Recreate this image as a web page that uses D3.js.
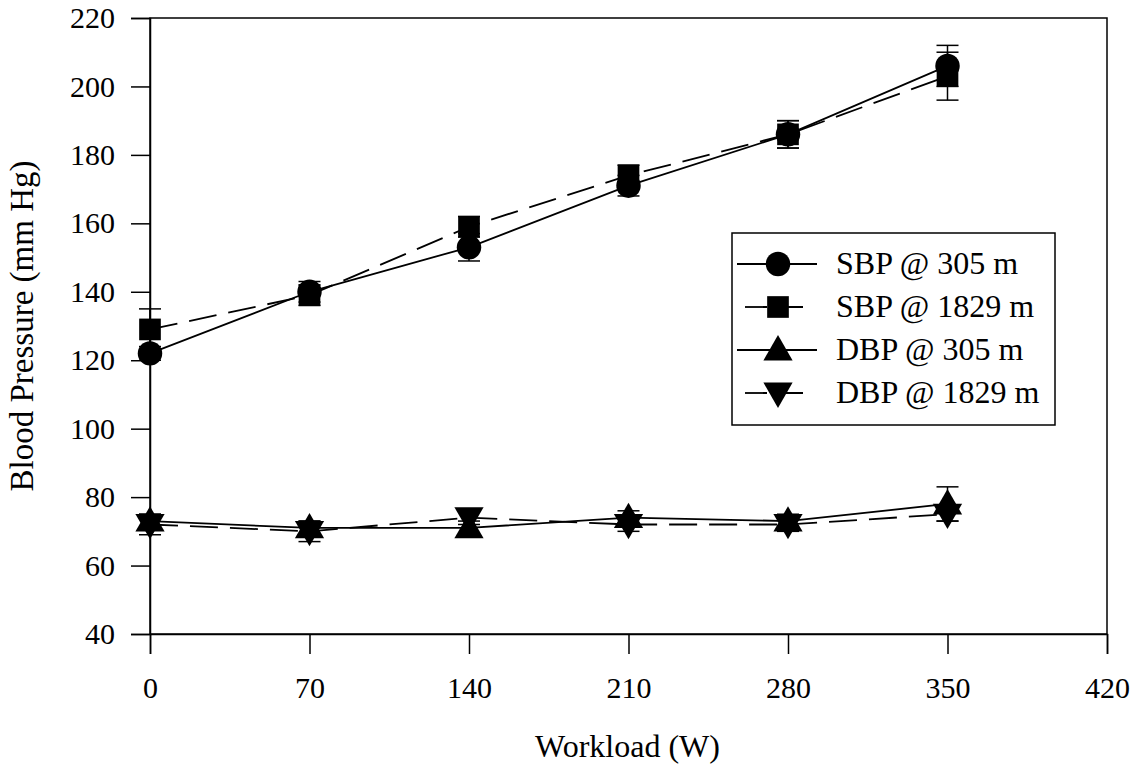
<!DOCTYPE html>
<html><head><meta charset="utf-8">
<script src="https://cdn.jsdelivr.net/npm/d3@7"></script>
<style>body{margin:0;background:#fff}svg{display:block}</style>
</head><body>
<svg id="c" width="1138" height="771"></svg>
<script>
const workload = [0, 70, 140, 210, 280, 350];
const sbp305 = [122, 140, 153, 171, 186, 206];
const sbp305Err = [2, 3, 4, 3, 4, 6];
const sbp1829 = [129, 139, 159, 174, 186, 203];
const sbp1829Err = [6, 3, 3, 3, 4, 7];
const dbp305 = [73, 71, 71, 74, 73, 78];
const dbp305Err = [2, 2, 2, 2, 2, 5];
const dbp1829 = [72, 70, 74, 72, 72, 75];
const dbp1829Err = [3, 3, 2, 2, 2, 2];
const xTicks = [0, 70, 140, 210, 280, 350, 420];
const yTicks = [40, 60, 80, 100, 120, 140, 160, 180, 200, 220];
const seriesNames = ["SBP @ 305 m", "SBP @ 1829 m", "DBP @ 305 m", "DBP @ 1829 m"];

const svg = d3.select("#c");
const font = "Liberation Serif, Times New Roman, serif";
const L = 150, R = 1107, T = 18, B = 634;
const x = d3.scaleLinear().domain([0, 420]).range([L, R]);
const y = d3.scaleLinear().domain([40, 220]).range([B, T]);

svg.append("rect").attr("x", L).attr("y", T).attr("width", R - L).attr("height", B - T)
  .attr("fill", "none").attr("stroke", "#000").attr("stroke-width", 1.5);

const xAxis = svg.append("g").attr("transform", `translate(0,${B})`)
  .call(d3.axisBottom(x).tickValues(xTicks).tickSize(20).tickPadding(23));
const yAxis = svg.append("g").attr("transform", `translate(${L},0)`)
  .call(d3.axisLeft(y).tickValues(yTicks).tickSize(19).tickPadding(16));
[xAxis, yAxis].forEach(g => {
  g.attr("font-family", font).attr("font-size", 30);
  g.select(".domain").attr("stroke-width", 1.5);
  g.selectAll(".tick line").attr("stroke-width", 1.5);
  g.selectAll("text").style("font-family", font).style("font-size", "30px").attr("fill", "#000");
});

svg.append("text").attr("x", (L + R) / 2 - 1).attr("y", 757).attr("text-anchor", "middle")
  .style("font-family", font).style("font-size", "32px").text("Workload (W)");
svg.append("text").attr("transform", `translate(33,${(T + B) / 2}) rotate(-90)`)
  .attr("text-anchor", "middle").style("font-family", font).style("font-size", "33px")
  .text("Blood Pressure (mm Hg)");

const series = [
  {name: seriesNames[0], v: sbp305, e: sbp305Err, sym: d3.symbolCircle, size: 470, dash: null},
  {name: seriesNames[1], v: sbp1829, e: sbp1829Err, sym: d3.symbolSquare, size: 470, dash: "28,12"},
  {name: seriesNames[2], v: dbp305, e: dbp305Err, sym: d3.symbolTriangle, size: 370, dash: null},
  {name: seriesNames[3], v: dbp1829, e: dbp1829Err, sym: d3.symbolTriangle, size: 370, dash: "28,12", flip: true}
];

const line = d3.line().x(d => x(d[0])).y(d => y(d[1]));
series.forEach(s => {
  const pts = workload.map((w, i) => [w, s.v[i], s.e[i]]);
  const g = svg.append("g");
  g.append("path").attr("d", line(pts)).attr("fill", "none").attr("stroke", "#000")
    .attr("stroke-width", 1.8).attr("stroke-dasharray", s.dash);
  pts.forEach(p => {
    const cx = x(p[0]), y1 = y(p[1] + p[2]), y2 = y(p[1] - p[2]);
    g.append("line").attr("x1", cx).attr("x2", cx).attr("y1", y1).attr("y2", y2).attr("stroke", "#000").attr("stroke-width", 1.5);
    [y1, y2].forEach(yy => g.append("line").attr("x1", cx - 11).attr("x2", cx + 11).attr("y1", yy).attr("y2", yy).attr("stroke", "#000").attr("stroke-width", 1.5));
  });
  g.selectAll(".m").data(pts).enter().append("path")
    .attr("d", d3.symbol().type(s.sym).size(s.size))
    .attr("transform", d => `translate(${x(d[0])},${y(d[1]) + (s.sym === d3.symbolTriangle ? (s.flip ? -2 : 2) : 0)})${s.flip ? " rotate(180)" : ""}`)
    .attr("fill", "#000");
});

const lg = svg.append("g");
lg.append("rect").attr("x", 732).attr("y", 233).attr("width", 323).attr("height", 192)
  .attr("fill", "#fff").attr("stroke", "#000").attr("stroke-width", 1.5);
series.forEach((s, i) => {
  const yy = 264 + i * 43;
  lg.append("line").attr("x1", 737).attr("x2", 817).attr("y1", yy).attr("y2", yy)
    .attr("stroke", "#000").attr("stroke-width", 1.8).attr("stroke-dasharray", s.dash ? "22,14" : null)
    .attr("stroke-dashoffset", s.dash ? -8 : 0);
  lg.append("path").attr("d", d3.symbol().type(s.sym).size(s.size))
    .attr("transform", `translate(778,${yy + (s.sym === d3.symbolTriangle ? (s.flip ? -2 : 2) : 0)})${s.flip ? " rotate(180)" : ""}`)
    .attr("fill", "#000");
  lg.append("text").attr("x", 836).attr("y", yy + 10).style("font-family", font).style("font-size", "32px")
    .text(s.name);
});
</script>
</body></html>
